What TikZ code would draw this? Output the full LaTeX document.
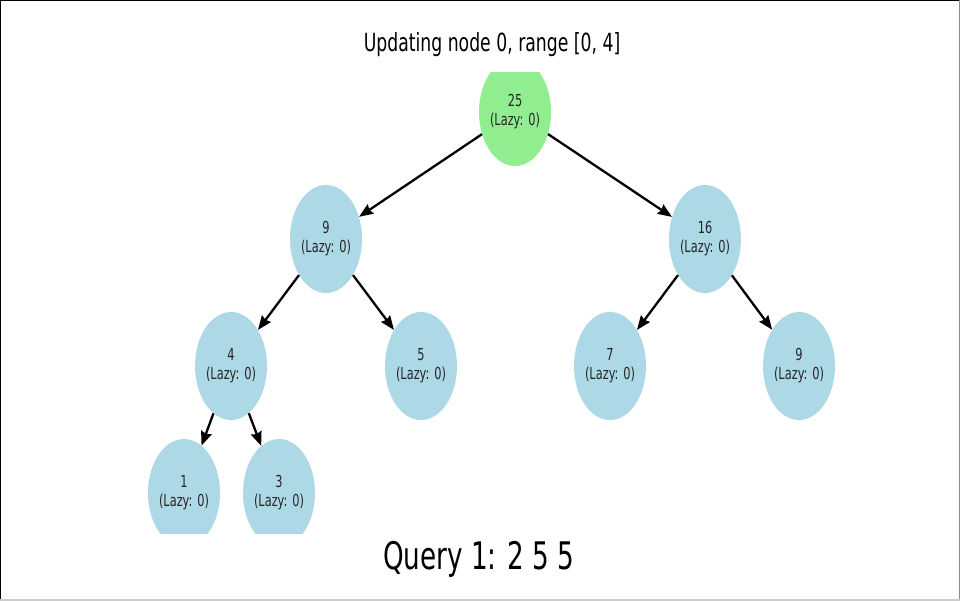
\documentclass[tikz,border=0pt]{standalone}
\usepackage{fontspec}
\setmainfont{DejaVu Sans}
\usetikzlibrary{shapes.geometric,arrows.meta}
\definecolor{nodeblue}{HTML}{ADD8E6}
\definecolor{nodegreen}{HTML}{90EE90}
\newcommand{\nodelabel}[1]{\scalebox{0.69}[1]{\fontsize{16.5}{19}\selectfont\begin{tabular}{@{}c@{}}#1\end{tabular}}}
\tikzset{
  treenode/.style={ellipse, fill=nodeblue, inner sep=0pt, minimum width=72pt, minimum height=108pt, text=black!85},
  rootnode/.style={treenode, fill=nodegreen},
  edge/.style={-{Stealth[length=14pt,width=11pt,inset=1.5pt]}, line width=2.3pt, black},
  frameline/.style={line width=2pt}
}
\begin{document}
\begin{tikzpicture}[x=1pt,y=-1pt]
\useasboundingbox (0,0) rectangle (960,600);
\fill[white] (0,0) rectangle (960,600);
\draw[frameline,black] (0,600) -- (0,0) -- (960,0);
\draw[frameline,black!45] (960,0) -- (960,600);
\draw[frameline,black!20] (0,600) -- (960,600);
\node (title) at (492,45) {\scalebox{0.69}[1]{\fontsize{25}{30}\selectfont Updating node 0, range [0, 4]}};
\node (query) at (479,559) {\scalebox{0.69}[1]{\fontsize{38}{45}\selectfont Query 1: 2 5 5}};
\begin{scope}
\clip (0,72) rectangle (960,533);
\node[rootnode] (n0) at (515,112) {\nodelabel{25\\(Lazy: 0)}};
\node[treenode] (n1) at (326,239) {\nodelabel{9\\(Lazy: 0)}};
\node[treenode] (n2) at (705,239) {\nodelabel{16\\(Lazy: 0)}};
\node[treenode] (n3) at (231,366) {\nodelabel{4\\(Lazy: 0)}};
\node[treenode] (n4) at (421,366) {\nodelabel{5\\(Lazy: 0)}};
\node[treenode] (n5) at (610,366) {\nodelabel{7\\(Lazy: 0)}};
\node[treenode] (n6) at (799,366) {\nodelabel{9\\(Lazy: 0)}};
\node[treenode] (n7) at (184,493) {\nodelabel{1\\(Lazy: 0)}};
\node[treenode] (n8) at (279,493) {\nodelabel{3\\(Lazy: 0)}};
\end{scope}
\draw[edge] (n0) -- (n1);
\draw[edge] (n0) -- (n2);
\draw[edge] (n1) -- (n3);
\draw[edge] (n1) -- (n4);
\draw[edge] (n2) -- (n5);
\draw[edge] (n2) -- (n6);
\draw[edge] (n3) -- (n7);
\draw[edge] (n3) -- (n8);
\end{tikzpicture}
\end{document}
